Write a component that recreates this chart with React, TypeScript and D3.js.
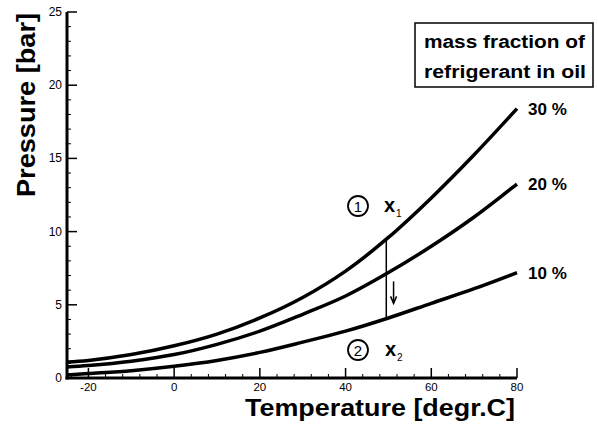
import * as d3 from "d3";

// temperatures (degr.C) where the curves were read
const temps = [-25, -20, -10, 0, 10, 20, 30, 40, 50, 60, 70, 80];
// pressure [bar] per mass fraction
const p30 = [1.1, 1.2, 1.6, 2.2, 3.0, 4.1, 5.5, 7.3, 9.6, 12.3, 15.25, 18.4];
const p20 = [0.75, 0.85, 1.15, 1.6, 2.3, 3.2, 4.35, 5.6, 7.2, 9.0, 11.0, 13.25];
const p10 = [0.2, 0.3, 0.5, 0.8, 1.2, 1.75, 2.45, 3.2, 4.1, 5.1, 6.1, 7.2];
const seriesLabels = ["30 %", "20 %", "10 %"];

const xTicks = [-20, 0, 20, 40, 60, 80];
const yTicks = [0, 5, 10, 15, 20, 25];

// state change x1 -> x2
const changeTemp = 49.5;
const arrowTemp = 51.2;
const arrowFrom = 6.6;
const arrowTo = 5.1;

const font = "'Liberation Sans', Arial, Helvetica, sans-serif";

export default function App() {
  const width = 598;
  const height = 425;

  const x = d3.scaleLinear().domain([-25, 80]).range([67, 517]);
  const y = d3.scaleLinear().domain([0, 25]).range([378, 12]);

  const line = d3
    .line<number>()
    .x((_, i) => x(temps[i]))
    .y((d) => y(d))
    .curve(d3.curveCatmullRom);

  const series = [p30, p20, p10];

  // value of a series at a temperature (for the marker line)
  const at = (vals: number[], t: number) => {
    const i = d3.bisectRight(temps, t) - 1;
    const f = (t - temps[i]) / (temps[i + 1] - temps[i]);
    return vals[i] + f * (vals[i + 1] - vals[i]);
  };

  const xMinor = d3.range(-24, 81, 4).filter((t) => !xTicks.includes(t));
  const yMinor = d3.range(0, 26, 1).filter((v) => !yTicks.includes(v));

  const x0 = x(-25);
  const yb = y(0);

  const ax = x(arrowTemp);
  const ay1 = y(arrowFrom);
  const ay2 = y(arrowTo);

  return (
    <svg
      width={width}
      height={height}
      style={{ position: "absolute", left: 0, top: 0, background: "#fff" }}
      fontFamily={font}
    >
      {/* axes */}
      <line x1={x0} x2={x0} y1={y(25)} y2={yb + 1.5} stroke="#000" strokeWidth={3} />
      <line x1={x0 - 1.5} x2={x(80)} y1={yb} y2={yb} stroke="#000" strokeWidth={3} />

      {yTicks.map((v) => (
        <g key={"y" + v}>
          <line x1={x0} x2={x0 + 10} y1={y(v)} y2={y(v)} stroke="#000" strokeWidth={1.5} />
          <text x={62} y={y(v) + 4} textAnchor="end" fontSize={12}>
            {v}
          </text>
        </g>
      ))}
      {yMinor.map((v) => (
        <line key={"ym" + v} x1={x0} x2={x0 + 4} y1={y(v)} y2={y(v)} stroke="#000" strokeWidth={1} />
      ))}

      {xTicks.map((t) => (
        <g key={"x" + t}>
          <line x1={x(t)} x2={x(t)} y1={yb} y2={yb - 10} stroke="#000" strokeWidth={1.5} />
          <text x={x(t)} y={yb + 13} textAnchor="middle" fontSize={11.5}>
            {t < 0 ? "-" + Math.abs(t) : t}
          </text>
        </g>
      ))}
      {xMinor.map((t) => (
        <line key={"xm" + t} x1={x(t)} x2={x(t)} y1={yb} y2={yb - 4} stroke="#000" strokeWidth={1} />
      ))}

      {/* curves */}
      {series.map((s, i) => (
        <path key={i} d={line(s) ?? ""} fill="none" stroke="#000" strokeWidth={3.5} />
      ))}

      {/* series labels */}
      {series.map((s, i) => (
        <text
          key={"l" + i}
          x={528}
          y={y(s[s.length - 1]) + 6}
          fontSize={17}
          fontWeight="bold"
        >
          {seriesLabels[i]}
        </text>
      ))}

      {/* vertical change line */}
      <line
        x1={x(changeTemp)}
        x2={x(changeTemp)}
        y1={y(at(p30, changeTemp))}
        y2={y(at(p10, changeTemp))}
        stroke="#000"
        strokeWidth={1.5}
      />
      {/* arrow */}
      <line x1={ax} x2={ax} y1={ay1} y2={ay2} stroke="#000" strokeWidth={1.5} />
      <path
        d={`M${ax - 3},${ay2 - 7} L${ax},${ay2} L${ax + 3},${ay2 - 7}`}
        fill="none"
        stroke="#000"
        strokeWidth={1.5}
      />

      {/* state markers */}
      <circle cx={358} cy={206} r={10} fill="none" stroke="#000" strokeWidth={1.8} />
      <text x={358} y={211.5} textAnchor="middle" fontSize={15}>
        1
      </text>
      <text x={384} y={212} fontSize={20} fontWeight="bold">
        x
      </text>
      <text x={396} y={217} fontSize={10}>
        1
      </text>

      <circle cx={358} cy={350} r={10} fill="none" stroke="#000" strokeWidth={1.8} />
      <text x={358} y={355.5} textAnchor="middle" fontSize={15}>
        2
      </text>
      <text x={385} y={356} fontSize={20} fontWeight="bold">
        x
      </text>
      <text x={397} y={361} fontSize={10}>
        2
      </text>

      {/* legend box */}
      <rect x={415} y={23} width={178} height={64} fill="#fff" stroke="#000" strokeWidth={1.5} />
      <text x={424} y={48} fontSize={18} fontWeight="bold" textLength={161} lengthAdjust="spacingAndGlyphs">
        mass fraction of
      </text>
      <text x={424} y={78} fontSize={18} fontWeight="bold" textLength={162} lengthAdjust="spacingAndGlyphs">
        refrigerant in oil
      </text>

      {/* axis titles */}
      <text
        transform={`translate(35,105) rotate(-90)`}
        textAnchor="middle"
        fontSize={25}
        fontWeight="bold"
        textLength={184}
        lengthAdjust="spacingAndGlyphs"
      >
        Pressure [bar]
      </text>
      <text
        x={245}
        y={416}
        fontSize={24}
        fontWeight="bold"
        textLength={270}
        lengthAdjust="spacingAndGlyphs"
      >
        Temperature [degr.C]
      </text>
    </svg>
  );
}
